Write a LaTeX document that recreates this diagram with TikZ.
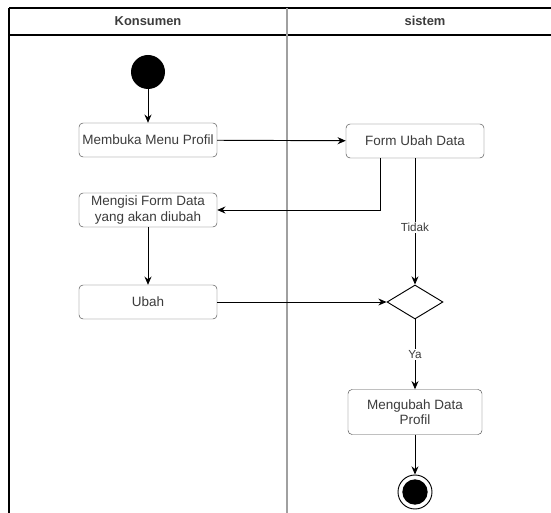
\documentclass[tikz,border=0pt]{standalone}
\usepackage{fontspec}
\setmainfont{Liberation Sans}
\usepackage{tikz}
\usetikzlibrary{shapes.geometric, arrows.meta, positioning}
\definecolor{TextGray}{RGB}{60,60,60}
\definecolor{LaneGray}{RGB}{160,160,160}

\begin{document}
\begin{tikzpicture}[x=0.03cm,y=-0.03cm,
        act/.style={draw=black!70,fill=white,rounded corners=3.5pt,
                    minimum width=4.14cm,minimum height=1.02cm,inner sep=1pt,
                    font=\fontsize{11.5}{13}\selectfont,text=TextGray,align=center},
        dec/.style={diamond,draw=black,thick,fill=white,inner sep=0pt,
                    minimum width=1.68cm,minimum height=1.02cm},
        lbl/.style={fill=white,font=\fontsize{10}{12}\selectfont,text=TextGray,inner sep=1pt},
        arrow/.style={-{Stealth[length=7pt,width=6pt]},thick}]
        \useasboundingbox (0,0) rectangle (551,513);

        % Swimlanes
        \draw[line width=1pt] (9,8) -- (563,8);
        \draw[line width=1pt] (9,35) -- (563,35);
        \draw[line width=1pt] (9,8) -- (9,530);
        \draw[LaneGray,line width=1pt] (287,8) -- (287,530);
        \node[font=\bfseries\fontsize{11}{13}\selectfont,text=TextGray] (lane1) at (148,21) {Konsumen};
        \node[font=\bfseries\fontsize{11}{13}\selectfont,text=TextGray] (lane2) at (425,21) {sistem};

        % Konsumen
        \node[circle,fill=black,minimum size=1.02cm,inner sep=0pt] (start) at (148,72) {};
        \node[act] (buka)   at (148,140) {Membuka Menu Profil};
        \node[act] (isi)    at (148,210) {Mengisi Form Data\\yang akan diubah};
        \node[act] (ubah)   at (148,302) {Ubah};

        % sistem
        \node[act] (form)   at (415,141) {Form Ubah Data};
        \node[dec] (cek)    at (415,302) {};
        \node[act,minimum width=4.02cm,minimum height=1.35cm] (simpan) at (415,412) {Mengubah Data\\Profil};
        \node[circle,draw=black,thick,fill=white,minimum size=1.02cm,inner sep=0pt] (stop) at (415,492) {};
        \node[circle,fill=black,minimum size=0.76cm,inner sep=0pt] at (stop) {};

        \draw[arrow] (start)--(buka);
        \draw[arrow] (buka)--(form);
        \draw[arrow] ([xshift=-1.05cm]form.south) |- (isi.east);
        \draw[arrow] (isi)--(ubah);
        \draw[arrow] (ubah)--(cek);
        \draw[arrow] (form)--(cek) node[lbl,pos=0.55] {Tidak};
        \draw[arrow] (cek)--(simpan) node[lbl,midway] {Ya};
        \draw[arrow] (simpan)--(stop);
      \end{tikzpicture}
\end{document}
